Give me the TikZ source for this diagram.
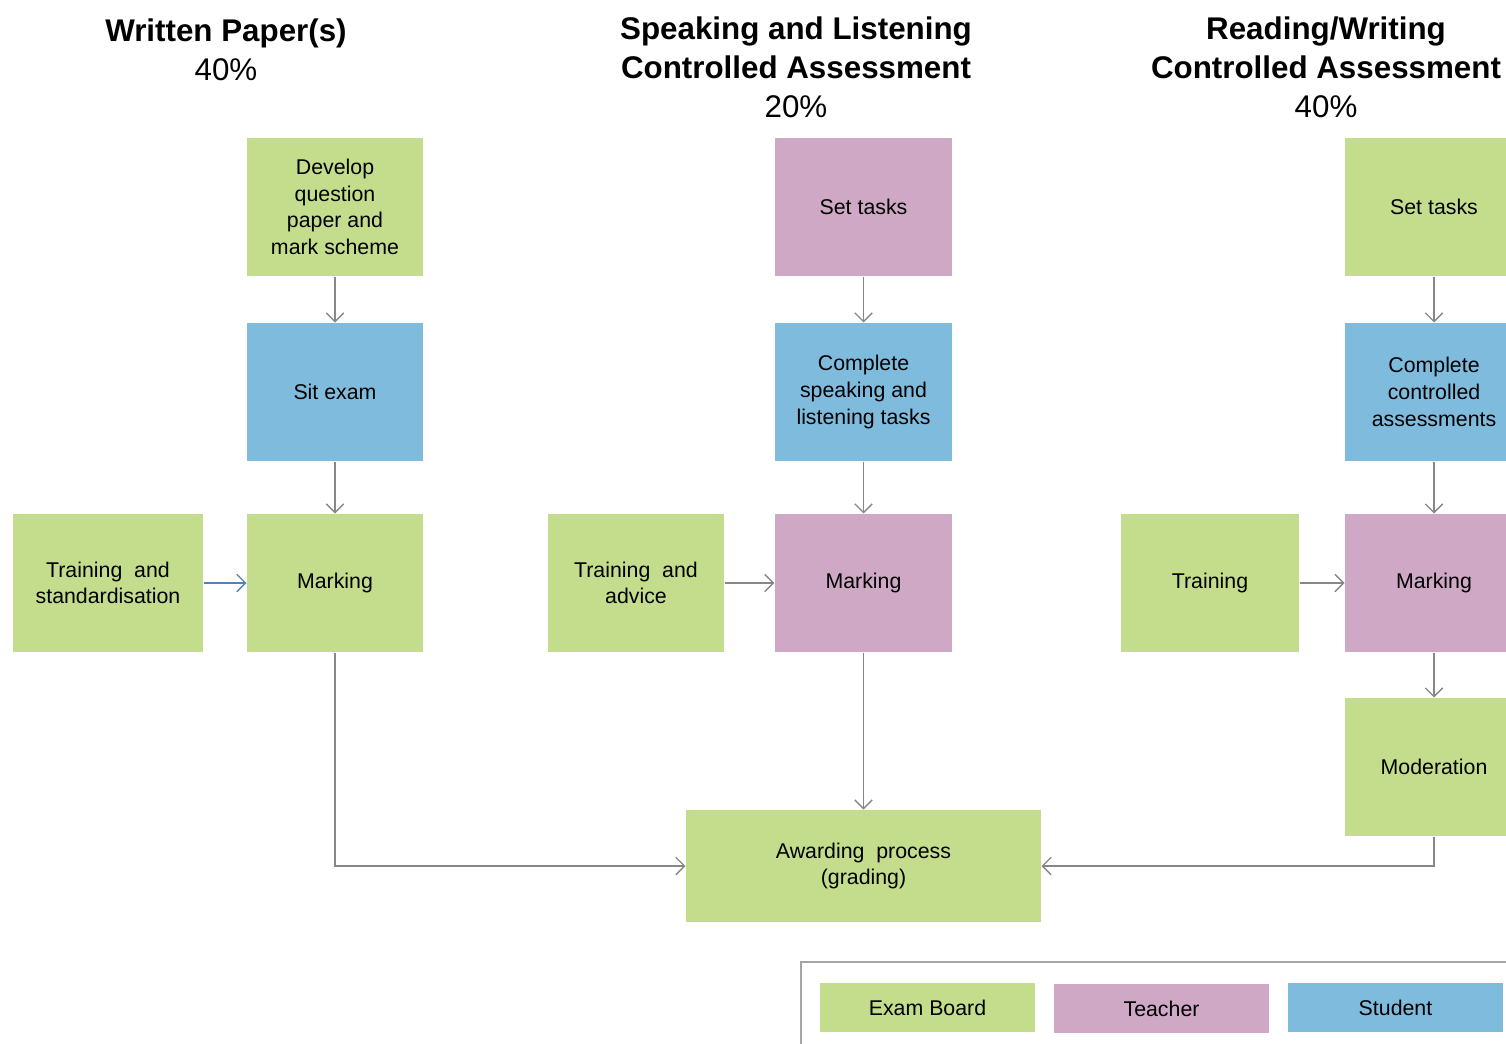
\documentclass[tikz,border=0pt]{standalone}
\usepackage{fontspec}
\setmainfont{Liberation Sans}
\usetikzlibrary{arrows.meta}

\definecolor{examboard}{RGB}{195,221,140}
\definecolor{teacher}{RGB}{207,168,198}
\definecolor{student}{RGB}{127,187,221}
\definecolor{flowgray}{RGB}{135,135,135}
\definecolor{flowblue}{RGB}{79,129,189}

\tikzset{every picture/.style={line width=0.75pt}}
\tikzset{
	box/.style={draw=none, inner sep=2pt, align=center, minimum width=132pt, minimum height=103.5pt, font=\fontsize{16}{20}\selectfont},
	eb/.style={box, fill=examboard},
	tc/.style={box, fill=teacher},
	st/.style={box, fill=student},
	keybox/.style={draw=none, inner sep=0pt, minimum width=161.25pt, minimum height=36.75pt, font=\fontsize{16}{20}\selectfont},
	title/.style={inner sep=0pt, align=center, font=\fontsize{23.5}{29}\selectfont},
	flow/.style={draw=flowgray, line width=1.1pt, -{Straight Barb[length=6.5pt,width=13pt,line width=1pt]}}
}

\begin{document}
\begin{tikzpicture}[x=0.75pt,y=0.75pt,yscale=-1,xscale=1]
	\clip (0,0) rectangle (1506,1043);
	\path[fill=white] (0,0) rectangle (1506,1043);
	
	% Titles
	\node (tWritten) [title, anchor=base] at (226,80) {\textbf{Written Paper(s)}\\40\%};
	\node (tSpeak) [title, anchor=base] at (796,117) {\textbf{Speaking and Listening}\\\textbf{Controlled Assessment}\\20\%};
	\node (tRead) [title, anchor=base] at (1326,117) {\textbf{Reading/Writing}\\\textbf{Controlled Assessment}\\40\%};
	
	% Written paper column
	\node (dev) [eb] at (335,207) {Develop\\question\\paper and\\mark scheme};
	\node (sit) [st] at (335,392) {Sit exam};
	\node (markA) [eb] at (335,583) {Marking};
	\node (trainA) [eb, minimum width=142.5pt] at (108,583) {Training \ and\\standardisation};
	
	% Speaking and listening column
	\node (setB) [tc, minimum width=133pt] at (863.5,207) {Set tasks};
	\node (compB) [st, minimum width=133pt] at (863.5,392) {Complete\\speaking and\\listening tasks};
	\node (markB) [tc, minimum width=133pt] at (863.5,583) {Marking};
	\node (trainB) [eb] at (636,583) {Training \ and\\advice};
	
	% Reading/writing column
	\node (setC) [eb, minimum width=133.5pt] at (1434,207) {Set tasks};
	\node (compC) [st, minimum width=133.5pt] at (1434,392) {Complete\\controlled\\assessments};
	\node (markC) [tc, minimum width=133.5pt] at (1434,583) {Marking};
	\node (trainC) [eb, minimum width=133.5pt] at (1210,583) {Training};
	\node (mod) [eb, minimum width=133.5pt] at (1434,767) {Moderation};
	
	% Awarding
	\node (award) [eb, minimum width=266.25pt, minimum height=84pt] at (863.5,866) {Awarding \ process\\(grading)};
	
	%Straight Lines
	\draw[flow] (dev) -- (sit);
	\draw[flow] (sit) -- (markA);
	\draw[flow, draw=flowblue] (trainA) -- (markA);
	\draw[flow] (markA) |- (award);
	\draw[flow] (setB) -- (compB);
	\draw[flow] (compB) -- (markB);
	\draw[flow] (trainB) -- (markB);
	\draw[flow] (markB) -- (award);
	\draw[flow] (setC) -- (compC);
	\draw[flow] (compC) -- (markC);
	\draw[flow] (trainC) -- (markC);
	\draw[flow] (markC) -- (mod);
	\draw[flow] (mod) |- (award);
	
	% Key
	\draw[draw={rgb,255:red,165;green,165;blue,165}, line width=1pt] (801,962) rectangle (1540,1070);
	\node (keyEB) [keybox, fill=examboard] at (927.5,1007.5) {Exam Board};
	\node (keyT) [keybox, fill=teacher] at (1161.5,1008.5) {Teacher};
	\node (keyS) [keybox, fill=student] at (1395.5,1007.5) {Student};
	
\end{tikzpicture}
\end{document}
